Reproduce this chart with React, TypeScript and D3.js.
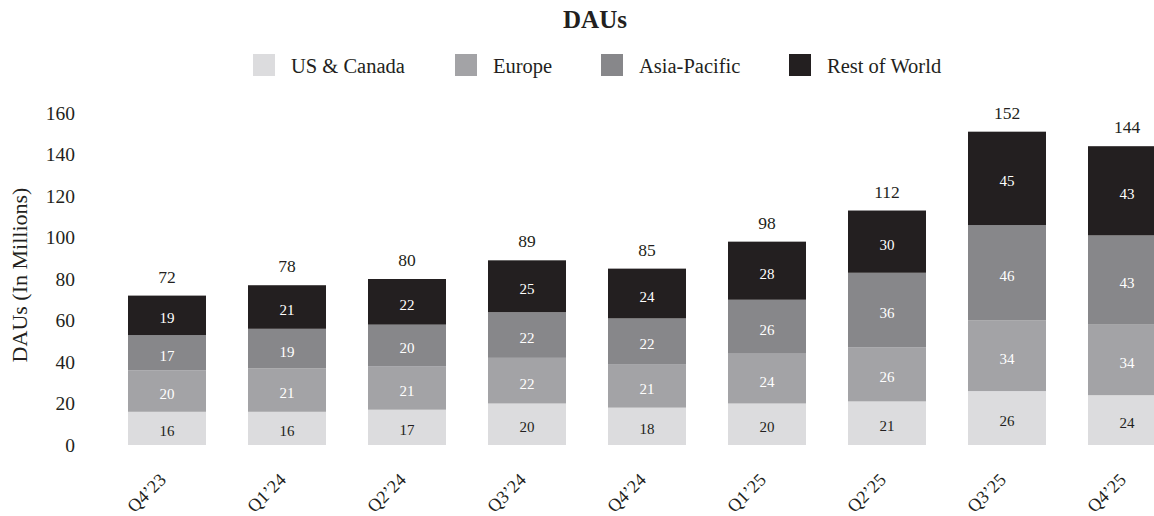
import React from "react";
import * as d3 from "d3";

const quarters = ["Q4\u201923", "Q1\u201924", "Q2\u201924", "Q3\u201924", "Q4\u201924", "Q1\u201925", "Q2\u201925", "Q3\u201925", "Q4\u201925"];
const seriesNames = ["US & Canada", "Europe", "Asia-Pacific", "Rest of World"];
const usCanada = [16, 16, 17, 20, 18, 20, 21, 26, 24];
const europe = [20, 21, 21, 22, 21, 24, 26, 34, 34];
const asiaPacific = [17, 19, 20, 22, 22, 26, 36, 46, 43];
const restOfWorld = [19, 21, 22, 25, 24, 28, 30, 45, 43];
const totals = [72, 78, 80, 89, 85, 98, 112, 152, 144];
const yTicks = [0, 20, 40, 60, 80, 100, 120, 140, 160];

const colors = ["#dcdcde", "#a3a3a6", "#87878a", "#231f20"];
const labelColors = ["#231f20", "#ffffff", "#ffffff", "#ffffff"];
const legendX = [253, 455, 601, 789];
const FONT = "'Liberation Serif', 'Times New Roman', serif";

export default function App() {
  const W = 1154, H = 516;
  const rows = quarters.map((q, i) => ({
    q,
    s0: usCanada[i],
    s1: europe[i],
    s2: asiaPacific[i],
    s3: restOfWorld[i],
  }));
  const stack = d3.stack<any>().keys(["s0", "s1", "s2", "s3"]);
  const layers = stack(rows);

  const x = d3.scaleBand<string>().domain(quarters).range([107, 1187]).paddingInner(0.35).paddingOuter(0.175);
  const y = d3.scaleLinear().domain([0, 160]).range([445, 113]);

  return (
    <svg width={W} height={H} style={{ position: "absolute", left: 0, top: 0, background: "#fff" }} fontFamily={FONT}>
      <text x={595} y={28} textAnchor="middle" fontWeight="bold" fontSize={25} fill="#231f20">DAUs</text>
      {seriesNames.map((n, i) => {
        const sx = legendX[i];
        return (
          <g key={n}>
            <rect x={sx} y={54} width={22} height={22} fill={colors[i]} />
            <text x={sx + 38} y={73} fontSize={20.5} fill="#231f20">{n}</text>
          </g>
        );
      })}
      <text transform={`translate(27,275) rotate(-90)`} textAnchor="middle" fontSize={22} fill="#231f20">DAUs (In Millions)</text>
      {yTicks.map((t) => (
        <text key={t} x={75} y={y(t) + 6.5} textAnchor="end" fontSize={19.5} fill="#231f20">{t}</text>
      ))}
      {layers.map((layer, li) => (
        <g key={li}>
          {layer.map((d, i) => (
            <g key={i}>
              <rect x={x(quarters[i])!} y={y(d[1])} width={x.bandwidth()} height={y(d[0]) - y(d[1])} fill={colors[li]} />
              <text x={x(quarters[i])! + x.bandwidth() / 2} y={(y(d[0]) + y(d[1])) / 2 + 8} textAnchor="middle" fontSize={15} fill={labelColors[li]}>
                {d[1] - d[0]}
              </text>
            </g>
          ))}
        </g>
      ))}
      {quarters.map((q, i) => {
        const top = y(layers[3][i][1]);
        const cx = x(q)! + x.bandwidth() / 2;
        return (
          <g key={q}>
            <text x={cx} y={top - 13} textAnchor="middle" fontSize={17.5} fill="#231f20">{totals[i]}</text>
            <text transform={`translate(${cx},${481}) rotate(-45)`} textAnchor="end" fontSize={18} fill="#231f20">{q}</text>
          </g>
        );
      })}
    </svg>
  );
}
